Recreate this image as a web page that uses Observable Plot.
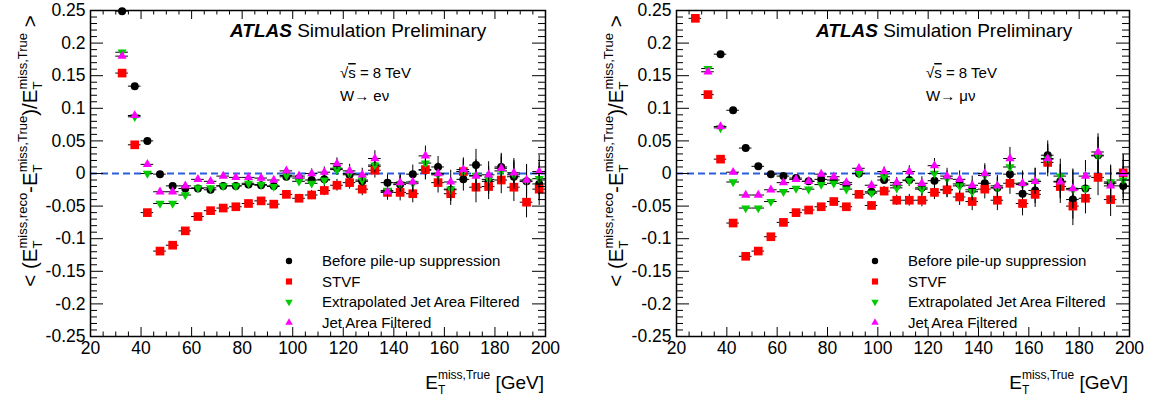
<!DOCTYPE html>
<html><head><meta charset="utf-8">
<script src="https://cdn.jsdelivr.net/npm/d3@7"></script>
<script src="https://cdn.jsdelivr.net/npm/@observablehq/plot@0.6"></script>
<style>
html,body{margin:0;padding:0;background:#fff;}
#wrap{display:flex;width:1156px;height:402px;}
#wrap > div{width:578px;height:402px;position:relative;}
svg{display:block;}
text{white-space:pre;}
</style></head><body><div id="wrap"><div id="left"></div><div id="right"></div></div>
<script>
const FONT = "'Liberation Sans', Arial, Helvetica, sans-serif";

const seriesNames = ["Before pile-up suppression", "STVF", "Extrapolated Jet Area Filtered", "Jet Area Filtered"];
const seriesColors = ["#000000", "#ff0000", "#00cc00", "#ff00ff"];
const seriesSymbols = ["circle", "square", "triangle", "triangle"];
const seriesRotate = [0, 0, 180, 0];

// ---- Left panel: W -> e nu ----
const xLeft = [32.5, 37.5, 42.5, 47.5, 52.5, 57.5, 62.5, 67.5, 72.5, 77.5, 82.5, 87.5, 92.5, 97.5, 102.5, 107.5, 112.5, 117.5, 122.5, 127.5, 132.5, 137.5, 142.5, 147.5, 152.5, 157.5, 162.5, 167.5, 172.5, 177.5, 182.5, 187.5, 192.5, 197.5];
const beforeLeft = [0.249, 0.134, 0.050, -0.001, -0.019, -0.023, -0.023, -0.025, -0.019, -0.019, -0.017, -0.018, -0.019, -0.005, -0.007, -0.010, -0.009, 0.008, -0.002, -0.012, 0.011, -0.014, -0.017, -0.001, 0.005, 0.010, -0.025, -0.009, 0.013, -0.012, 0.010, -0.005, -0.012, -0.016];
const stvfLeft = [0.154, 0.044, -0.060, -0.119, -0.110, -0.088, -0.066, -0.057, -0.053, -0.051, -0.046, -0.042, -0.047, -0.032, -0.038, -0.033, -0.026, -0.018, -0.014, -0.024, 0.005, -0.029, -0.029, -0.031, 0.006, -0.014, -0.031, 0.003, -0.021, -0.020, -0.010, -0.021, -0.044, -0.024];
const extrapLeft = [0.186, 0.087, 0.000, -0.046, -0.046, -0.033, -0.022, -0.022, -0.019, -0.019, -0.015, -0.017, -0.020, -0.003, -0.012, -0.015, -0.010, 0.006, 0.000, -0.010, 0.013, -0.026, -0.016, -0.015, 0.016, -0.002, -0.024, 0.003, -0.003, -0.009, 0.004, -0.002, -0.012, -0.008];
const jafLeft = [0.180, 0.089, 0.014, -0.028, -0.028, -0.019, -0.009, -0.012, -0.004, -0.006, -0.006, -0.007, -0.010, 0.004, -0.004, 0.000, 0.002, 0.015, 0.004, -0.002, 0.023, -0.028, -0.014, -0.013, 0.027, 0.000, -0.013, 0.006, -0.004, -0.002, 0.008, 0.001, -0.010, 0.003];
const errLeft = [0.002, 0.002, 0.002, 0.002, 0.002, 0.003, 0.003, 0.003, 0.003, 0.004, 0.004, 0.004, 0.005, 0.006, 0.006, 0.007, 0.008, 0.009, 0.010, 0.010, 0.012, 0.012, 0.013, 0.014, 0.015, 0.016, 0.018, 0.018, 0.024, 0.020, 0.021, 0.022, 0.024, 0.025];

// ---- Right panel: W -> mu nu ----
const xRight = [27.5, 32.5, 37.5, 42.5, 47.5, 52.5, 57.5, 62.5, 67.5, 72.5, 77.5, 82.5, 87.5, 92.5, 97.5, 102.5, 107.5, 112.5, 117.5, 122.5, 127.5, 132.5, 137.5, 142.5, 147.5, 152.5, 157.5, 162.5, 167.5, 172.5, 177.5, 182.5, 187.5, 192.5, 197.5];
const beforeRight = [null, null, 0.183, 0.097, 0.039, 0.011, -0.001, -0.004, -0.007, -0.012, -0.009, -0.010, -0.017, 0.000, -0.028, -0.010, -0.018, -0.010, -0.022, -0.011, -0.025, -0.016, -0.025, -0.015, -0.022, -0.001, -0.031, -0.026, 0.028, -0.012, -0.040, -0.023, 0.028, -0.015, -0.019];
const stvfRight = [0.238, 0.121, 0.022, -0.076, -0.127, -0.119, -0.097, -0.075, -0.060, -0.056, -0.051, -0.043, -0.051, -0.032, -0.049, -0.027, -0.041, -0.041, -0.041, -0.029, -0.025, -0.036, -0.043, -0.024, -0.041, -0.015, -0.046, -0.032, 0.017, -0.020, -0.050, -0.038, -0.006, -0.040, 0.001];
const extrapRight = [null, 0.161, 0.070, -0.013, -0.053, -0.053, -0.043, -0.028, -0.023, -0.024, -0.017, -0.015, -0.024, 0.000, -0.030, -0.005, -0.022, -0.011, -0.024, 0.000, -0.008, -0.019, -0.028, -0.003, -0.022, 0.010, -0.017, -0.012, 0.022, -0.004, -0.025, -0.023, 0.027, -0.013, -0.010];
const jafRight = [null, 0.156, 0.072, 0.002, -0.033, -0.033, -0.025, -0.014, -0.009, -0.012, -0.001, -0.005, -0.014, 0.008, -0.018, 0.003, -0.014, 0.003, -0.015, 0.012, -0.004, -0.009, -0.018, 0.000, -0.019, 0.023, -0.015, -0.012, 0.023, -0.013, -0.023, -0.004, 0.033, -0.019, 0.000];
const errRight = [0.002, 0.002, 0.002, 0.002, 0.002, 0.002, 0.003, 0.003, 0.003, 0.003, 0.004, 0.004, 0.005, 0.005, 0.006, 0.007, 0.008, 0.009, 0.010, 0.011, 0.012, 0.013, 0.014, 0.015, 0.016, 0.017, 0.019, 0.020, 0.022, 0.026, 0.030, 0.024, 0.028, 0.026, 0.028];

// ---- Axes ----
const xTicksMajor = [20, 40, 60, 80, 100, 120, 140, 160, 180, 200];
const xTickLabels = ["20", "40", "60", "80", "100", "120", "140", "160", "180", "200"];
const yTicksMajor = [-0.25, -0.2, -0.15, -0.1, -0.05, 0, 0.05, 0.1, 0.15, 0.2, 0.25];
const yTickLabels = ["-0.25", "-0.2", "-0.15", "-0.1", "-0.05", "0", "0.05", "0.1", "0.15", "0.2", "0.25"];
const xTicksMinor = d3.range(20, 201, 5).filter(v => v % 20 !== 0);
const yTicksMinor = d3.range(-25, 26).filter(v => v % 5 !== 0).map(v => v / 100);

const dotR = [4, 4.9, 3.4, 3.4];

function rich(svg, x, y, parts, opts = {}) {
  const t = svg.append("text").attr("x", x).attr("y", y)
    .attr("text-anchor", opts.anchor || "start")
    .attr("font-family", FONT).attr("fill", "black");
  if (opts.rotate) t.attr("transform", `rotate(${opts.rotate},${x},${y})`);
  let prev = 0;
  for (const p of parts) {
    const ts = t.append("tspan").text(p.t).attr("font-size", p.size);
    const sh = p.shift || 0;
    if (sh !== prev) ts.attr("dy", sh - prev);
    if (p.dx) ts.attr("dx", p.dx);
    if (p.weight) ts.attr("font-weight", p.weight);
    if (p.style) ts.attr("font-style", p.style);
    if (p.deco) ts.attr("text-decoration", p.deco);
    prev = sh;
  }
  return t;
}

function etParts(sup, big, small) {
  return [
    {t: "E", size: big},
    {t: "T", size: small, shift: 5},
    {t: sup, size: small, shift: -10, dx: -small * 0.611}
  ];
}

function panel(el, cfg) {
  const W = 578, H = 402, mt = 10, mb = 66, ml = cfg.ml, mr = cfg.mr;
  const fw = W - ml - mr, fh = H - mt - mb;
  const series = [cfg.before, cfg.stvf, cfg.extrap, cfg.jaf];
  const rows = [];
  series.forEach((vals, s) => vals.forEach((v, i) => {
    if (v != null) rows.push({x: cfg.x[i], y: v, e: cfg.err[i], s});
  }));
  const marks = [
    Plot.ruleY([0], {stroke: "#2a5fdc", strokeWidth: 2, strokeDasharray: "7,4"})
  ];
  for (let s = 0; s < 4; s++) {
    const d = rows.filter(r => r.s === s);
    marks.push(Plot.ruleX(d, {x: "x", y1: r => r.y - r.e, y2: r => r.y + r.e, stroke: "black", strokeWidth: 1}));
    marks.push(Plot.ruleY(d, {y: "y", x1: r => r.x - 2.5, x2: r => r.x + 2.5, stroke: "black", strokeWidth: 1}));
    marks.push(Plot.dot(d, {x: "x", y: "y", symbol: seriesSymbols[s], r: dotR[s], fill: seriesColors[s], stroke: "none", rotate: seriesRotate[s]}));
  }
  // ticks inward on all four sides
  marks.push(Plot.tickX(xTicksMajor, {x: d => d, insetTop: fh - 9, stroke: "black"}));
  marks.push(Plot.tickX(xTicksMinor, {x: d => d, insetTop: fh - 4.5, stroke: "black"}));
  marks.push(Plot.tickX(xTicksMajor, {x: d => d, insetBottom: fh - 9, stroke: "black"}));
  marks.push(Plot.tickX(xTicksMinor, {x: d => d, insetBottom: fh - 4.5, stroke: "black"}));
  marks.push(Plot.tickY(yTicksMajor, {y: d => d, insetRight: fw - 13, stroke: "black"}));
  marks.push(Plot.tickY(yTicksMinor, {y: d => d, insetRight: fw - 7, stroke: "black"}));
  marks.push(Plot.tickY(yTicksMajor, {y: d => d, insetLeft: fw - 13, stroke: "black"}));
  marks.push(Plot.tickY(yTicksMinor, {y: d => d, insetLeft: fw - 7, stroke: "black"}));
  marks.push(Plot.frame({stroke: "black", strokeWidth: 1.5}));
  marks.push(Plot.text(xTicksMajor, {x: d => d, frameAnchor: "bottom", lineAnchor: "top", dy: 5, text: (d, i) => xTickLabels[i], fontSize: 17.5, fill: "black"}));
  marks.push(Plot.text(yTicksMajor, {y: d => d, frameAnchor: "left", textAnchor: "end", dx: -5, text: (d, i) => yTickLabels[i], fontSize: 17.5, fill: "black"}));

  const plot = Plot.plot({
    width: W, height: H, marginTop: mt, marginBottom: mb, marginLeft: ml, marginRight: mr,
    x: {domain: [20, 200], axis: null},
    y: {domain: [-0.25, 0.25], axis: null},
    style: {fontFamily: FONT, background: "white", overflow: "visible"},
    marks
  });
  el.appendChild(plot);
  const svg = d3.select(plot);

  // headline texts
  rich(svg, ml + 140, 36.5, [
    {t: "ATLAS", size: 19, weight: "bold", style: "italic"},
    {t: " Simulation Preliminary", size: 19}
  ]);
  rich(svg, ml + 250, 78, [
    {t: "√", size: 15},
    {t: "s", size: 15, deco: "overline"},
    {t: " = 8 TeV", size: 15}
  ]);
  rich(svg, ml + 250, 101, [{t: cfg.channel, size: 15}]);

  // legend
  const legY = [261, 281.5, 302, 322.5];
  const symbols = [d3.symbolCircle, d3.symbolSquare, d3.symbolTriangle, d3.symbolTriangle];
  const sizes = [32, 38, 24, 24];
  for (let s = 0; s < 4; s++) {
    svg.append("path")
      .attr("d", d3.symbol(symbols[s], sizes[s])())
      .attr("fill", seriesColors[s])
      .attr("transform", `translate(${ml + 199},${legY[s]}) rotate(${seriesRotate[s]})`);
    svg.append("text").attr("x", ml + 232).attr("y", legY[s] + 5.3)
      .attr("text-anchor", "start")
      .attr("font-family", FONT).attr("font-size", 15).attr("fill", "black")
      .text(seriesNames[s]);
  }

  // x title
  rich(svg, ml + fw - 1, 389, [...etParts("miss,True", 19, 12), {t: " [GeV]", size: 19, shift: 0}], {anchor: "end"});
  // y title
  rich(svg, ml - 53, 151, [
    {t: "< (", size: 20.5},
    ...etParts("miss,reco", 20.5, 13),
    {t: "-", size: 20.5, shift: 0},
    ...etParts("miss,True", 20.5, 13),
    {t: ")/", size: 20.5, shift: 0},
    ...etParts("miss,True", 20.5, 13),
    {t: " >", size: 20.5, shift: 0}
  ], {anchor: "middle", rotate: -90});
}

panel(document.getElementById("left"), {
  ml: 90, mr: 33, x: xLeft, before: beforeLeft, stvf: stvfLeft, extrap: extrapLeft, jaf: jafLeft, err: errLeft,
  channel: "W→ eν"
});
panel(document.getElementById("right"), {
  ml: 98, mr: 27, x: xRight, before: beforeRight, stvf: stvfRight, extrap: extrapRight, jaf: jafRight, err: errRight,
  channel: "W→ μν"
});
</script>
</body></html>
